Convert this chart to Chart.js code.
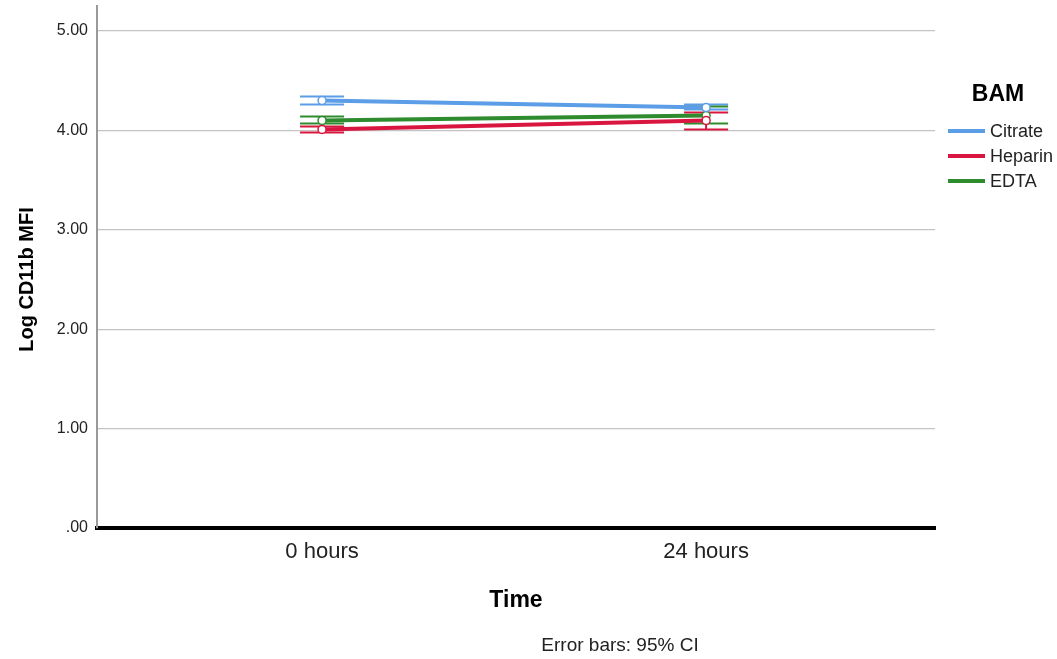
<!DOCTYPE html>
<html>
<head>
<meta charset="utf-8">
<script src="https://cdn.jsdelivr.net/npm/chart.js@4/dist/chart.umd.min.js"></script>
<style>
  html, body { margin: 0; padding: 0; background: #fff; }
  #wrap { width: 1057px; height: 659px; }
</style>
</head>
<body>
<div id="wrap"><canvas id="cd11bChart"></canvas></div>
<script>
// Log CD11b MFI by time point, one line per anticoagulant (BAM), 95% CI bars
const timeLabels = ['0 hours', '24 hours'];
const yTicks = [0, 1, 2, 3, 4, 5];

const citrateMean = [4.30, 4.23];
const citrateLow = [4.26, 4.21];
const citrateHigh = [4.34, 4.26];

const heparinMean = [4.01, 4.10];
const heparinLow = [3.98, 4.01];
const heparinHigh = [4.04, 4.18];

const edtaMean = [4.10, 4.15];
const edtaLow = [4.07, 4.07];
const edtaHigh = [4.14, 4.24];

const FONT = '"Liberation Sans", Arial, sans-serif';

function series(label, color, mean, low, high) {
    return {
        label: label,
        data: mean.map((v, i) => ({ x: i, y: v })),
        low: low,
        high: high,
        borderColor: color,
        backgroundColor: color,
        borderWidth: 4,
        pointRadius: 4,
        pointBorderWidth: 1.5,
        pointBackgroundColor: '#fff',
        pointBorderColor: color,
    };
}

// 95% CI whiskers with caps
const errorBars = {
    id: 'errorBars',
    beforeDatasetsDraw(chart) {
        const { ctx, scales: { x, y } } = chart;
        ctx.save();
        chart.data.datasets.forEach(ds => {
            ctx.strokeStyle = ds.borderColor;
            ctx.lineWidth = 2;
            ds.data.forEach((pt, i) => {
                const px = x.getPixelForValue(pt.x);
                const lo = y.getPixelForValue(ds.low[i]);
                const hi = y.getPixelForValue(ds.high[i]);
                ctx.beginPath();
                ctx.moveTo(px, lo); ctx.lineTo(px, hi);
                ctx.moveTo(px - 22, lo); ctx.lineTo(px + 22, lo);
                ctx.moveTo(px - 22, hi); ctx.lineTo(px + 22, hi);
                ctx.stroke();
            });
        });
        ctx.restore();
    }
};

// legend block, axis extension and footnote
const extras = {
    id: 'extras',
    afterDraw(chart) {
        const { ctx, chartArea } = chart;
        ctx.save();
        ctx.strokeStyle = '#9a9a9a';
        ctx.lineWidth = 2;
        ctx.beginPath();
        ctx.moveTo(chartArea.left, chartArea.top - 26);
        ctx.lineTo(chartArea.left, chartArea.top);
        ctx.stroke();

        ctx.fillStyle = '#000';
        ctx.font = 'bold 23px ' + FONT;
        ctx.textAlign = 'center';
        ctx.textBaseline = 'middle';
        ctx.fillText('BAM', 998, 95);

        ctx.font = '18px ' + FONT;
        ctx.textAlign = 'left';
        chart.data.datasets.forEach((ds, i) => {
            const ly = 131 + i * 25;
            ctx.fillStyle = ds.borderColor;
            ctx.fillRect(948, ly - 2, 37, 4);
            ctx.fillStyle = '#222';
            ctx.fillText(ds.label, 990, ly + 1);
        });

        ctx.font = '19px ' + FONT;
        ctx.textAlign = 'center';
        ctx.fillText('Error bars: 95% CI', 620, 646);
        ctx.restore();
    }
};

new Chart(document.getElementById('cd11bChart'), {
    type: 'line',
    data: {
        datasets: [
            series('Citrate', '#5b9de6', citrateMean, citrateLow, citrateHigh),
            series('Heparin', '#d9163f', heparinMean, heparinLow, heparinHigh),
            series('EDTA', '#2e8b2e', edtaMean, edtaLow, edtaHigh),
        ],
    },
    options: {
        responsive: true,
        maintainAspectRatio: false,
        animation: false,
        layout: { padding: { top: 31, right: 122, bottom: 0, left: 0 } },
        plugins: {
            legend: { display: false },
            tooltip: { enabled: false },
        },
        scales: {
            x: {
                type: 'linear',
                min: -0.586,
                max: 1.596,
                afterBuildTicks: s => { s.ticks = timeLabels.map((_, i) => ({ value: i })); },
                afterFit: s => { s.height = 131; },
                grid: { display: false, drawTicks: false },
                border: { color: '#000', width: 4 },
                ticks: {
                    padding: 11,
                    color: '#222',
                    font: { family: FONT, size: 22 },
                    callback: v => timeLabels[v],
                },
                title: {
                    display: true,
                    text: 'Time',
                    color: '#000',
                    font: { family: FONT, size: 23, weight: 'bold' },
                    padding: { top: 4, bottom: 45 },
                },
            },
            y: {
                min: 0,
                max: 5,
                afterBuildTicks: s => { s.ticks = yTicks.map(v => ({ value: v })); },
                afterFit: s => { s.width = 97; },
                grid: { color: '#c4c4c4', lineWidth: 1.2, drawTicks: false },
                border: { color: '#9a9a9a', width: 2 },
                ticks: {
                    padding: 9,
                    color: '#222',
                    font: { family: FONT, size: 16 },
                    callback: v => v === 0 ? '.00' : v.toFixed(2),
                },
                title: {
                    display: true,
                    text: 'Log CD11b MFI',
                    color: '#000',
                    font: { family: FONT, size: 20, weight: 'bold' },
                    padding: { top: 15, bottom: 4 },
                },
            },
        },
    },
    plugins: [errorBars, extras],
});
</script>
</body>
</html>
